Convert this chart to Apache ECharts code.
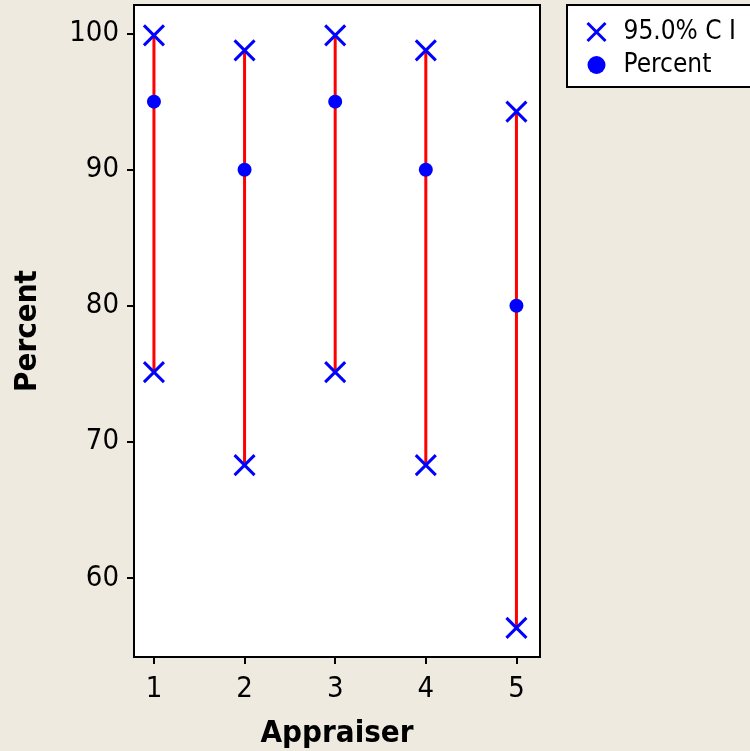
<!DOCTYPE html>
<html><head><meta charset="utf-8">
<script src="https://cdn.jsdelivr.net/npm/echarts@6/dist/echarts.min.js"></script>
<style>html,body{margin:0;padding:0;background:#EEEAE0;}#c{width:750px;height:751px;}</style>
</head><body><div id="c"></div>
<script>
const appraisers = [1, 2, 3, 4, 5];
const percent = [95, 90, 95, 90, 80];
const ciLower = [75.13, 68.30, 75.13, 68.30, 56.34];
const ciUpper = [99.87, 98.77, 99.87, 98.77, 94.27];
const yTicks = [60, 70, 80, 90, 100];
const xTicks = [1, 2, 3, 4, 5];

const FONT = '"DejaVu Sans Condensed", "DejaVu Sans", sans-serif';
const crossPath = 'path://M0,0L10,10M10,0L0,10';
const chart = echarts.init(document.getElementById('c'));
const ciPoints = [];
appraisers.forEach((a, i) => { ciPoints.push([a, ciUpper[i]]); ciPoints.push([a, ciLower[i]]); });

chart.setOption({
  backgroundColor: '#EEEAE0',
  animation: false,
  textStyle: { fontFamily: FONT },
  grid: { left: 134, top: 5, width: 406, height: 652, outerBoundsMode: 'none', containLabel: false, show: true, backgroundColor: '#fff', borderColor: '#000', borderWidth: 2 },
  legend: {
    left: 567, top: 5, width: 220, orient: 'vertical',
    padding: [14, 60, 9, 18], itemGap: 7,
    backgroundColor: '#fff', borderColor: '#000', borderWidth: 2,
    itemWidth: 20, itemHeight: 18,
    textStyle: { fontFamily: FONT, fontSize: 26, color: '#000', padding: [0, 0, 0, 12] },
    data: [
      { name: '95.0% C I', icon: crossPath, itemStyle: { color: 'none', borderColor: '#0000FF', borderWidth: 3 } },
      { name: 'Percent', icon: 'circle', itemStyle: { color: '#0000FF' } }
    ]
  },
  xAxis: {
    type: 'value', min: 0.78, max: 5.26,
    name: 'Appraiser', nameLocation: 'middle', nameGap: 61,
    nameTextStyle: { fontFamily: FONT, fontSize: 31, fontWeight: 'bold', color: '#000' },
    axisLine: { show: true, onZero: false, lineStyle: { color: '#000', width: 2 } },
    axisTick: { show: true, length: 7, lineStyle: { color: '#000', width: 2 }, customValues: xTicks },
    axisLabel: { fontFamily: FONT, fontSize: 29, color: '#000', margin: 18, customValues: xTicks },
    splitLine: { show: false }
  },
  yAxis: {
    type: 'value', min: 54.2, max: 102.1,
    name: 'Percent', nameLocation: 'middle', nameGap: 91, nameRotate: 90,
    nameTextStyle: { fontFamily: FONT, fontSize: 31, fontWeight: 'bold', color: '#000' },
    axisLine: { show: true, onZero: false, lineStyle: { color: '#000', width: 2 } },
    axisTick: { show: true, length: 7, lineStyle: { color: '#000', width: 2 }, customValues: yTicks },
    axisLabel: { fontFamily: FONT, fontSize: 29, color: '#000', margin: 15, customValues: yTicks },
    splitLine: { show: false }
  },
  series: [
    {
      type: 'custom', name: 'ciline', silent: true, z: 2,
      data: appraisers.map((a, i) => [a, ciLower[i], ciUpper[i]]),
      renderItem: function (params, api) {
        const p1 = api.coord([api.value(0), api.value(1)]);
        const p2 = api.coord([api.value(0), api.value(2)]);
        return { type: 'line', shape: { x1: p1[0], y1: p1[1], x2: p2[0], y2: p2[1] }, style: { stroke: '#FF0000', lineWidth: 3 } };
      }
    },
    {
      type: 'scatter', name: '95.0% C I', z: 3, symbol: crossPath, symbolSize: 20,
      itemStyle: { color: 'none', borderColor: '#0000FF', borderWidth: 3, opacity: 1 },
      data: ciPoints
    },
    {
      type: 'scatter', name: 'Percent', z: 4, symbol: 'circle', symbolSize: 14,
      itemStyle: { color: '#0000FF', opacity: 1 },
      data: appraisers.map((a, i) => [a, percent[i]])
    }
  ]
});
</script></body></html>
